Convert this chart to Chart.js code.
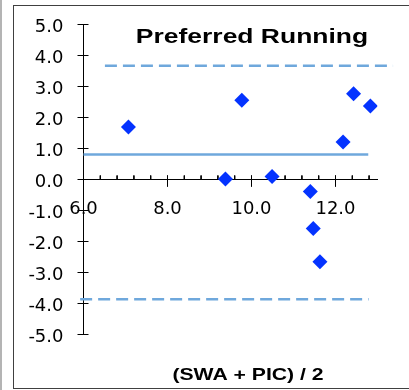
<!DOCTYPE html>
<html>
<head>
<meta charset="utf-8">
<script src="https://cdn.jsdelivr.net/npm/chart.js@4/dist/chart.umd.min.js"></script>
<style>
  html, body { margin: 0; padding: 0; background: #fff; }
  #edge { position: absolute; left: 0; top: 0; width: 2px; height: 390px; background: #b4b4b4; }
  #frame { position: absolute; left: 13px; top: 5px; width: 395px; height: 382px;
           border-top: 1px solid #404040; border-left: 1px solid #404040; border-bottom: 1px solid #404040; }
  #chart { position: absolute; left: 0; top: 0; }
</style>
</head>
<body>
<div id="edge"></div>
<div id="frame"></div>
<canvas id="chart" width="409" height="390"></canvas>
<script>
// Mean of the two methods (x) against their difference (y)
const avgValues  = [7.07, 9.38, 9.77, 10.49, 11.40, 11.47, 11.63, 12.18, 12.43, 12.83];
const diffValues = [1.69, 0.02, 2.56, 0.10, -0.39, -1.58, -2.65, 1.21, 2.77, 2.37];

// Bias and limits of agreement, with the x extent of each reference line
const biasValue = 0.81;
const biasSpan = [6.0, 12.78];
const upperLimit = 3.67;
const upperSpan = [6.51, 13.37];
const lowerLimit = -3.86;
const lowerSpan = [5.92, 12.79];

// Axis ranges and ticks
const xRange = [6, 13];
const yRange = [-5, 5];
const xMajorTicks = [6, 8, 10, 12];
const xMinorStep = 0.4;
const yTicks = [-5, -4, -3, -2, -1, 0, 1, 2, 3, 4, 5];

const chartTitle = 'Preferred Running';
const xAxisTitle = '(SWA + PIC) / 2';

// Plot box inside the 409 x 390 canvas
const pad = { left: 0, top: 24.5, right: 31.5, bottom: 55.5 };
const yAxisWidth = 83.5;
const plotW = 409 - yAxisWidth - pad.right;
const plotH = 390 - pad.top - pad.bottom;
const pxX = (xRange[1] - xRange[0]) / plotW;   // x units per pixel
const pxY = (yRange[1] - yRange[0]) / plotH;   // y units per pixel

const tickFont = { family: 'DejaVu Sans', size: 18 };
const refBlue = '#6fa8dc';
const markBlue = '#0433ff';

// Tick marks crossing the axes, as short segments separated by gaps
function tickSegments() {
  const pts = [];
  const gap = () => pts.push({ x: xRange[0], y: null });
  yTicks.forEach(v => {
    pts.push({ x: xRange[0] - 6 * pxX, y: v }, { x: xRange[0] + 5 * pxX, y: v });
    gap();
  });
  xMajorTicks.forEach(v => {
    pts.push({ x: v, y: 4 * pxY }, { x: v, y: -7 * pxY });
    gap();
  });
  const n = Math.floor((xRange[1] - xRange[0]) / xMinorStep + 1e-9);
  for (let i = 1; i <= n; i++) {
    const v = xRange[0] + i * xMinorStep;
    if (xMajorTicks.some(m => Math.abs(m - v) < 1e-6)) continue;
    pts.push({ x: v, y: 4 * pxY }, { x: v, y: 0 });
    gap();
  }
  return pts;
}

const segment = (data, color, width, dash) => ({
  type: 'line',
  data,
  borderColor: color,
  borderWidth: width,
  borderDash: dash,
  pointRadius: 0,
  fill: false,
  spanGaps: false,
  clip: false
});

// Chart title and x-axis title, set in a wide bold face
function drawWideText(ctx, text, cx, baseline, size, stretch) {
  ctx.save();
  ctx.font = 'bold ' + size + 'px "Liberation Sans", Arial, sans-serif';
  ctx.fillStyle = '#000';
  ctx.textAlign = 'center';
  ctx.textBaseline = 'alphabetic';
  ctx.translate(cx, baseline);
  ctx.scale(stretch, 1);
  ctx.fillText(text, 0, 0);
  ctx.restore();
}

const titlesPlugin = {
  id: 'figureTitles',
  afterDraw(chart) {
    drawWideText(chart.ctx, chartTitle, 252, 43, 21, 1.26);
    drawWideText(chart.ctx, xAxisTitle, 248, 380, 17, 1.245);
  }
};

new Chart(document.getElementById('chart'), {
  type: 'scatter',
  data: {
    datasets: [
      {
        label: 'Difference',
        data: avgValues.map((v, i) => ({ x: v, y: diffValues[i] })),
        pointStyle: 'rectRot',
        pointRadius: 7.5,
        pointBackgroundColor: markBlue,
        pointBorderColor: markBlue,
        pointBorderWidth: 0
      },
      segment(biasSpan.map(v => ({ x: v, y: biasValue })), refBlue, 2.5, []),
      segment(upperSpan.map(v => ({ x: v, y: upperLimit })), refBlue, 2.5, [12, 6]),
      segment(lowerSpan.map(v => ({ x: v, y: lowerLimit })), refBlue, 2.5, [12, 6]),
      segment([{ x: xRange[0], y: yRange[0] }, { x: xRange[0], y: yRange[1] }], '#000', 1, []),
      segment([{ x: xRange[0], y: 0 }, { x: xRange[1], y: 0 }], '#000', 1, []),
      segment(tickSegments(), '#000', 1, [])
    ]
  },
  options: {
    responsive: false,
    animation: false,
    devicePixelRatio: 1,
    layout: { padding: pad },
    plugins: {
      legend: { display: false },
      tooltip: { enabled: false },
      title: { display: false }
    },
    scales: {
      x: {
        type: 'linear',
        min: xRange[0],
        max: xRange[1],
        position: { y: 0 },
        afterBuildTicks: s => { s.ticks = xMajorTicks.map(v => ({ value: v })); },
        grid: { display: true, drawOnChartArea: false, drawTicks: false },
        border: { display: true, color: '#000', width: 1 },
        ticks: {
          color: '#000',
          font: tickFont,
          padding: 19,
          maxRotation: 0,
          callback: v => Number(v).toFixed(1)
        }
      },
      y: {
        type: 'linear',
        min: yRange[0],
        max: yRange[1],
        position: 'left',
        afterBuildTicks: s => { s.ticks = yTicks.map(v => ({ value: v })); },
        afterFit: s => { s.width = yAxisWidth; s.paddingTop = 0; s.paddingBottom = 0; },
        grid: { display: true, drawOnChartArea: false, drawTicks: false },
        border: { display: true, color: '#000', width: 1 },
        ticks: {
          color: '#000',
          font: tickFont,
          padding: 20,
          labelOffset: 3,
          callback: v => Number(v).toFixed(1)
        }
      }
    }
  },
  plugins: [titlesPlugin]
});
</script>
</body>
</html>
